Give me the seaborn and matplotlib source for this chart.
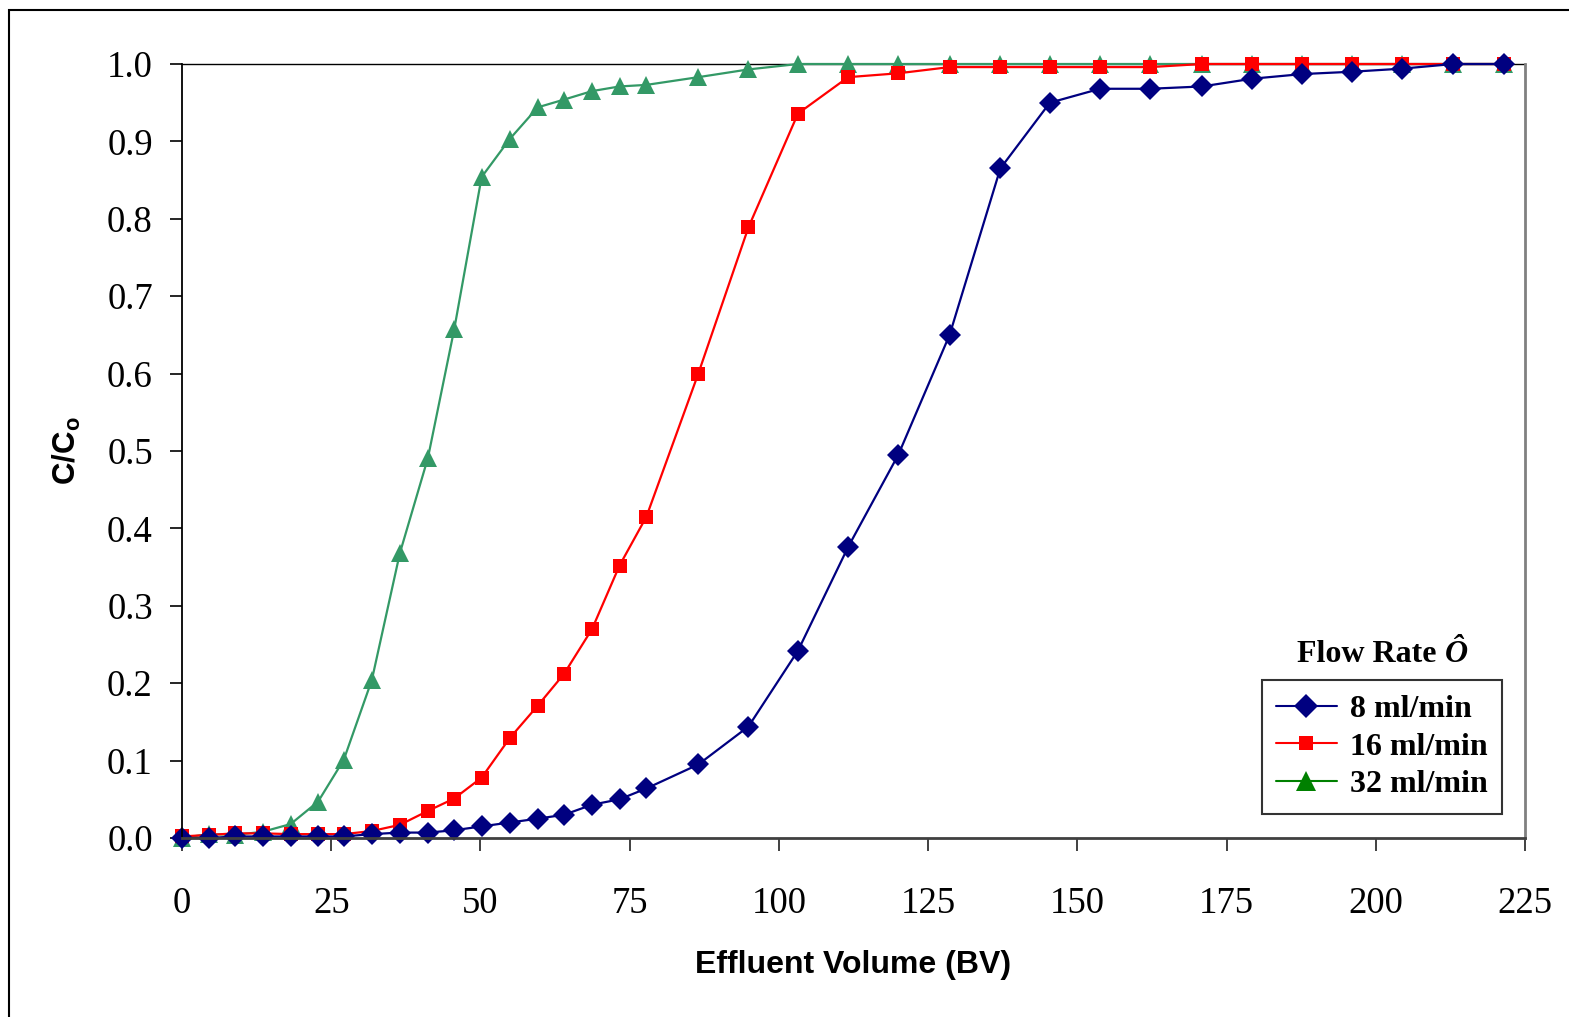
import matplotlib
matplotlib.use("Agg")
import matplotlib.pyplot as plt
from matplotlib.lines import Line2D
from matplotlib.patches import Rectangle
from matplotlib.ticker import FormatStrFormatter
import numpy as np
import pandas as pd
import seaborn as sns

# Effluent volume (bed volumes) sampled for every run
bed_volumes = [0, 4.5, 8.9, 13.5, 18.2, 22.8, 27.1, 31.8, 36.5, 41.2, 45.6, 50.2,
               54.9, 59.6, 64.0, 68.7, 73.3, 77.8, 86.5, 94.9, 103.2, 111.6, 120.0,
               128.6, 137.1, 145.4, 153.8, 162.2, 170.9, 179.3, 187.7, 196.0, 204.4,
               213.0, 221.4]

# Breakthrough C/Co for each flow rate
c_8 = [0, 0, 0.002, 0.002, 0.002, 0.002, 0.002, 0.005, 0.007, 0.007, 0.010, 0.015,
       0.020, 0.025, 0.030, 0.043, 0.050, 0.064, 0.095, 0.144, 0.242, 0.376, 0.495,
       0.650, 0.865, 0.950, 0.968, 0.968, 0.971, 0.981, 0.987, 0.990, 0.994, 1.0, 1.0]
c_16 = [0.002, 0.004, 0.006, 0.006, 0.005, 0.005, 0.005, 0.009, 0.017, 0.035, 0.051,
        0.078, 0.129, 0.171, 0.212, 0.270, 0.352, 0.415, 0.600, 0.789, 0.936, 0.983,
        0.988, 0.996, 0.996, 0.996, 0.996, 0.996, 1.0, 1.0, 1.0, 1.0, 1.0, 1.0, 1.0]
c_32 = [0, 0.005, 0.004, 0.008, 0.018, 0.047, 0.101, 0.204, 0.368, 0.491, 0.657,
        0.854, 0.903, 0.944, 0.954, 0.965, 0.971, 0.973, 0.983, 0.993, 1.0, 1.0, 1.0,
        1.0, 1.0, 1.0, 1.0, 1.0, 1.0, 1.0, 1.0, 1.0, 1.0, 1.0, 1.0]

series_labels = ["8 ml/min", "16 ml/min", "32 ml/min"]
x_ticks = [0, 25, 50, 75, 100, 125, 150, 175, 200, 225]
y_ticks = [0.0, 0.1, 0.2, 0.3, 0.4, 0.5, 0.6, 0.7, 0.8, 0.9, 1.0]

df = pd.DataFrame({
    "BV": bed_volumes * 3,
    "C/Co": c_8 + c_16 + c_32,
    "Flow": [series_labels[0]] * len(c_8) + [series_labels[1]] * len(c_16)
            + [series_labels[2]] * len(c_32),
})

sns.set_style("white")
plt.rcParams.update({
    "text.color": "black",
    "axes.labelcolor": "black",
    "xtick.color": "black",
    "ytick.color": "black",
    "mathtext.fontset": "custom",
    "mathtext.bf": "Liberation Sans:bold",
    "mathtext.rm": "Liberation Sans",
})

W, H = 1569, 1017
fig = plt.figure(figsize=(W / 100, H / 100), dpi=100)
fig.patch.set_facecolor("white")
ax = fig.add_axes([182 / W, (H - 838) / H, 1343 / W, 774 / H])

styles = {
    "32 ml/min": dict(color="#339966", marker="^", ms=12.5),
    "16 ml/min": dict(color="#FF0000", marker="s", ms=10),
    "8 ml/min": dict(color="#000080", marker="D", ms=11),
}
for name in ["32 ml/min", "16 ml/min", "8 ml/min"]:
    st = styles[name]
    sns.lineplot(data=df[df["Flow"] == name], x="BV", y="C/Co", ax=ax,
                 color=st["color"], marker=st["marker"], markersize=st["ms"],
                 markeredgewidth=0, linewidth=1.6, clip_on=False, legend=False,
                 errorbar=None)

ax.set_xlim(0, 225)
ax.set_ylim(0, 1.0)
ax.set_xticks(x_ticks)
ax.set_yticks(y_ticks)
ax.yaxis.set_major_formatter(FormatStrFormatter("%.1f"))

serif = "Liberation Serif"
for lab in ax.get_xticklabels() + ax.get_yticklabels():
    lab.set_fontfamily(serif)
    lab.set_fontsize(26.5)
ax.tick_params(axis="y", direction="out", length=9, width=1.2, color="black",
               pad=12, left=True)
ax.tick_params(axis="x", direction="out", length=9, width=1.4, color="#404040",
               pad=26, bottom=True)

for side, col, lw in [("left", "black", 1.3), ("bottom", "#404040", 2.0),
                      ("right", "#808080", 2.0), ("top", "black", 1.0)]:
    ax.spines[side].set_visible(True)
    ax.spines[side].set_color(col)
    ax.spines[side].set_linewidth(lw)
ax.spines["top"].set_zorder(0.5)

ax.set_xlabel("Effluent Volume (BV)", fontfamily="Liberation Sans",
              fontweight="bold", fontsize=23, labelpad=21)
ax.set_ylabel(r"$\mathbf{C/C_o}$", fontsize=22.5, labelpad=17)

# Legend with its heading placed above the frame
handles = [
    Line2D([], [], color="#000080", marker="D", ms=12.5, mew=0, lw=1.5),
    Line2D([], [], color="#FF0000", marker="s", ms=10, mew=0, lw=1.5),
    Line2D([], [], color="#008000", marker="^", ms=15, mew=0, lw=1.5),
]
leg = ax.legend(handles, series_labels, loc="upper left",
                bbox_to_anchor=(0.804, 0.204), borderaxespad=0,
                prop={"family": serif, "weight": "bold", "size": 23},
                frameon=True, fancybox=False, edgecolor="black",
                handlelength=1.9, handletextpad=0.4, labelspacing=0.26,
                borderpad=0.45)
leg.get_frame().set_linewidth(1.5)

t1 = fig.text(1297 / W, 1 - 654 / H, "Flow Rate ", fontfamily=serif,
              fontweight="bold", fontsize=23, va="center", ha="left")
ax.annotate("\u00d4", xy=(1, 0), xycoords=t1, va="bottom", ha="left",
            fontfamily=serif, fontweight="bold", fontstyle="italic", fontsize=23)

# Outer frame of the figure
fig.patches.append(Rectangle((9 / W, -0.1), 1.2, (1 - 10 / H) + 0.1,
                             transform=fig.transFigure, fill=False,
                             edgecolor="black", linewidth=1.5, zorder=-1))

fig.savefig("out.png", dpi=100)
